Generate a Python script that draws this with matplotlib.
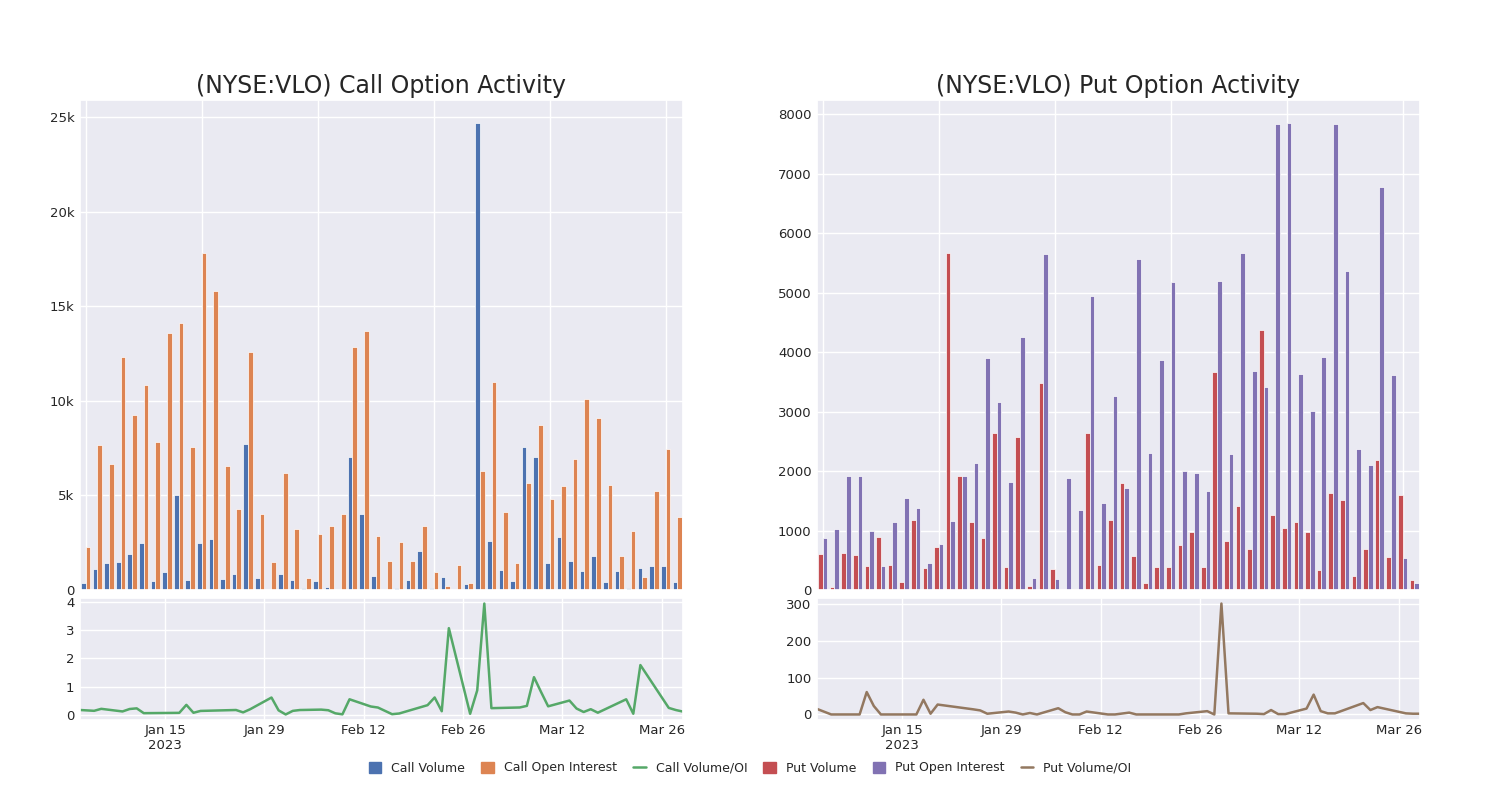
import matplotlib
matplotlib.use("Agg")
import matplotlib.pyplot as plt
import matplotlib.ticker as mticker
import matplotlib.patches as mpatches
import matplotlib.lines as mlines
import seaborn as sns
import numpy as np
import pandas as pd

sns.set_theme(style="darkgrid")
plt.rcParams['font.family'] = ['DejaVu Sans']

# trading days in the data (some days are missing)
dates = pd.to_datetime([
	"2023-01-03", "2023-01-05", "2023-01-06", "2023-01-09", "2023-01-10", "2023-01-11",
	"2023-01-12", "2023-01-17", "2023-01-18", "2023-01-19", "2023-01-20", "2023-01-25",
	"2023-01-26", "2023-01-27", "2023-01-30", "2023-01-31", "2023-02-01", "2023-02-02",
	"2023-02-03", "2023-02-06", "2023-02-07", "2023-02-08", "2023-02-09", "2023-02-10",
	"2023-02-13", "2023-02-14", "2023-02-16", "2023-02-17", "2023-02-21", "2023-02-22",
	"2023-02-23", "2023-02-24", "2023-02-27", "2023-02-28", "2023-03-01", "2023-03-02",
	"2023-03-06", "2023-03-07", "2023-03-08", "2023-03-09", "2023-03-10", "2023-03-13",
	"2023-03-14", "2023-03-15", "2023-03-16", "2023-03-17", "2023-03-21", "2023-03-22",
	"2023-03-23", "2023-03-27", "2023-03-28", "2023-03-29",
])

call_volume = [
	390, 1090, 1410, 1480, 1910, 2490, 460, 950, 5000, 550,
	2470, 2700, 570, 850, 7710, 640, 20, 870, 550, 120,
	480, 180, 70, 7060, 4040, 740, 35, 120, 530, 2070,
	120, 690, 50, 320, 24690, 2590, 1080, 460, 7570, 7040,
	1450, 2790, 1550, 1010, 1820, 420, 990, 120, 1180, 1290,
	1270, 440,
]
call_oi = [
	2280, 7660, 6640, 12350, 9270, 10850, 7820, 13590, 14150, 7540,
	17830, 15810, 6570, 4270, 12600, 4040, 1500, 6210, 3230, 650,
	2950, 3390, 4040, 12830, 13710, 2860, 1540, 2540, 1550, 3370,
	940, 225, 1340, 370, 6270, 10980, 4150, 1450, 5680, 8720,
	4820, 5520, 6950, 10080, 9120, 5580, 1800, 3140, 670, 5260,
	7470, 3850,
]
put_volume = [
	600, 56, 620, 590, 400, 890, 420, 140, 1180, 370,
	720, 5670, 1910, 1150, 870, 2640, 390, 2570, 60, 3480,
	360, 0, 10, 2640, 420, 1180, 1800, 570, 110, 380,
	380, 760, 970, 390, 3660, 830, 1410, 690, 4370, 1260,
	1050, 1140, 970, 330, 1640, 1520, 230, 690, 2190, 560,
	1590, 170,
]
put_oi = [
	870, 1020, 1910, 1910, 990, 400, 1140, 1550, 1380, 460,
	780, 1160, 1910, 2130, 3900, 3170, 1820, 4260, 210, 5660,
	180, 1880, 1340, 4940, 1470, 3260, 1720, 5570, 2300, 3870,
	5180, 2000, 1970, 1670, 5190, 2290, 5670, 3690, 3410, 7840,
	7850, 3640, 3010, 3920, 7840, 5370, 2380, 2100, 6780, 3610,
	530, 120,
]
put_ratio = [
	15, 0, 0, 0, 61, 23, 0, 0, 40, 2,
	27, 14, 11, 2, 8, 5, 0, 4, 0, 17,
	6, 0, 0, 8, 0, 0, 5, 0, 0, 0,
	0, 3, 9, 0, 302, 3, 2, 1, 12, 1,
	1, 16, 54, 9, 3, 3, 31, 12, 20, 3,
	2, 2,
]
call_ratio = np.array(call_volume) / np.array(call_oi)

tick_dates = pd.to_datetime(["2023-01-15", "2023-01-29", "2023-02-12", "2023-02-26", "2023-03-12", "2023-03-26"])
tick_labels = ["Jan 15\n2023", "Jan 29", "Feb 12", "Feb 26", "Mar 12", "Mar 26"]

blue = '#4C72B0'
orange = '#DD8452'
green = '#55A868'
red = '#C44E52'
purple = '#8172B3'
brown = '#937860'

fig = plt.figure(figsize=(15, 8), dpi=100)

def make_panel(left, vol, oi, ratio, c1, c2, c3, title, kfmt):
	ax = fig.add_axes([left, 0.2625, 0.402, 0.6125])
	axl = fig.add_axes([left, 0.1, 0.402, 0.1525])
	x = np.arange(len(vol))
	ax.bar(x - 0.2, vol, width=0.4, color=c1, edgecolor='white', linewidth=0.5)
	ax.bar(x + 0.2, oi, width=0.4, color=c2, edgecolor='white', linewidth=0.5)
	ax.set_xlim(-0.5, len(vol) - 0.5)
	ax.set_xticks(np.arange(0, len(vol), 10))
	ax.set_xticklabels([])
	ax.set_title(title, fontsize=17, pad=5)
	if kfmt:
		ax.yaxis.set_major_formatter(mticker.FuncFormatter(lambda v, p: "0" if v == 0 else "%dk" % (v / 1000)))
	ax.tick_params(axis='y', labelsize=9.5, pad=-2)

	axl.plot(dates, ratio, color=c3, linewidth=1.8)
	axl.set_xlim(dates[0], dates[-1])
	axl.set_xticks(tick_dates)
	axl.set_xticklabels(tick_labels, fontsize=9.5)
	axl.xaxis.set_minor_locator(mticker.NullLocator())
	axl.tick_params(axis='y', labelsize=9.5, pad=-2)
	axl.tick_params(axis='x', pad=-3)
	return ax, axl

ax1, ax1l = make_panel(0.0533, call_volume, call_oi, call_ratio, blue, orange, green,
	"(NYSE:VLO) Call Option Activity", True)
ax1l.set_yticks([0, 1, 2, 3, 4])
ax2, ax2l = make_panel(0.5447, put_volume, put_oi, put_ratio, red, purple, brown,
	"(NYSE:VLO) Put Option Activity", False)
ax2l.set_yticks([0, 100, 200, 300])

handles = [
	mpatches.Patch(color=blue, label='Call Volume'),
	mpatches.Patch(color=orange, label='Call Open Interest'),
	mlines.Line2D([], [], color=green, linewidth=1.8, label='Call Volume/OI'),
	mpatches.Patch(color=red, label='Put Volume'),
	mpatches.Patch(color=purple, label='Put Open Interest'),
	mlines.Line2D([], [], color=brown, linewidth=1.8, label='Put Volume/OI'),
]
fig.legend(handles=handles, loc='center', bbox_to_anchor=(0.5, 0.04), ncol=6, frameon=False,
	fontsize=9, handlelength=1.0, handleheight=1.0, columnspacing=1.3, handletextpad=0.8)

fig.savefig("out.png", dpi=100)
